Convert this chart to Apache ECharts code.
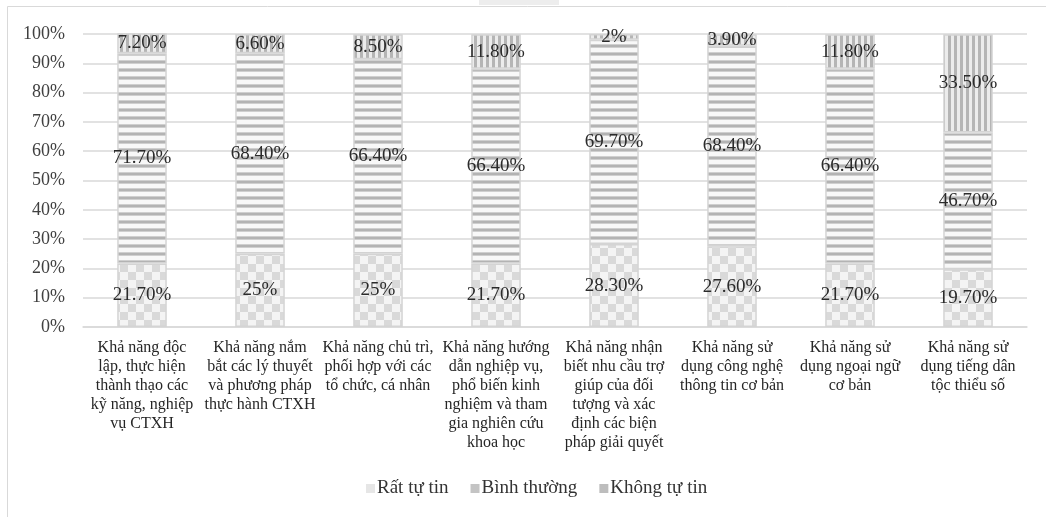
<!DOCTYPE html>
<html lang="vi">
  <head>
    <meta charset="UTF-8" />
    <title>Chart</title>
    <script src="https://cdn.jsdelivr.net/npm/echarts@6/dist/echarts.min.js"></script>
    <style>
      html, body { margin: 0; padding: 0; background: #fff; }
      #main { width: 1046px; height: 517px; }
    </style>
  </head>
  <body>
    <div id="main"></div>
    <script>
      // du lieu
      var categories = [
        "Khả năng độc\nlập, thực hiện\nthành thạo các\nkỹ năng, nghiệp\nvụ CTXH",
        "Khả năng nắm\nbắt các lý thuyết\nvà phương pháp\nthực hành CTXH",
        "Khả năng chủ trì,\nphối hợp với các\ntổ chức, cá nhân",
        "Khả năng hướng\ndẫn nghiệp vụ,\nphổ biến kinh\nnghiệm và tham\ngia nghiên cứu\nkhoa học",
        "Khả năng nhận\nbiết nhu cầu trợ\ngiúp của đối\ntượng và xác\nđịnh các biện\npháp giải quyết",
        "Khả năng sử\ndụng công nghệ\nthông tin cơ bản",
        "Khả năng sử\ndụng ngoại ngữ\ncơ bản",
        "Khả năng sử\ndụng tiếng dân\ntộc thiểu số"
      ];
      var seriesNames = ["Rất tự tin", "Bình thường", "Không tự tin"];
      var ratTuTin = [21.7, 25, 25, 21.7, 28.3, 27.6, 21.7, 19.7];
      var binhThuong = [71.7, 68.4, 66.4, 66.4, 69.7, 68.4, 66.4, 46.7];
      var khongTuTin = [7.2, 6.6, 8.5, 11.8, 2, 3.9, 11.8, 33.5];

      // hoa van (pattern) cho cot
      function makePattern(w, h, draw) {
        var c = document.createElement("canvas");
        c.width = w;
        c.height = h;
        draw(c.getContext("2d"));
        return { image: c, repeat: "repeat" };
      }
      var checker = makePattern(16, 16, function (ctx) {
        ctx.fillStyle = "#f4f4f4";
        ctx.fillRect(0, 0, 16, 16);
        ctx.fillStyle = "#d9d9d9";
        ctx.fillRect(0, 0, 8, 8);
        ctx.fillRect(8, 8, 8, 8);
      });
      var hStripes = makePattern(4, 8, function (ctx) {
        ctx.fillStyle = "#f8f8f8";
        ctx.fillRect(0, 0, 4, 8);
        ctx.fillStyle = "#cfcfcf";
        ctx.fillRect(0, 4, 4, 1);
        ctx.fillRect(0, 7, 4, 1);
        ctx.fillStyle = "#b3b3b3";
        ctx.fillRect(0, 5, 4, 2);
      });
      var vStripes = makePattern(6, 4, function (ctx) {
        ctx.fillStyle = "#ececec";
        ctx.fillRect(0, 0, 6, 4);
        ctx.fillStyle = "#b5b5b5";
        ctx.fillRect(0, 0, 3, 4);
      });
      var patterns = [checker, hStripes, vStripes];
      var legendColors = ["#e6e6e6", "#c4c4c4", "#bdbdbd"];
      var values = [ratTuTin, binhThuong, khongTuTin];

      var font = "'Liberation Serif', 'Times New Roman', serif";

      function fmt(p) {
        var v = p.value;
        return (Math.round(v) === v ? v : v.toFixed(2)) + "%";
      }

      var series = [];
      for (var i = 0; i < 3; i++) {
        series.push({
          name: seriesNames[i],
          type: "bar",
          stack: "total",
          barWidth: "42%",
          itemStyle: {
            color: patterns[i],
            borderColor: "#d4d4d4",
            borderWidth: 1.5
          },
          label: {
            show: true,
            position: "inside",
            formatter: fmt,
            color: "#2b2b2b",
            fontFamily: font,
            fontSize: 19
          },
          data: values[i]
        });
      }

      var myChart = echarts.init(document.getElementById("main"));
      var option = {
        backgroundColor: "#fff",
        animation: false,
        graphic: [
          {
            type: "rect",
            shape: { x: 7.5, y: 6.5, width: 1200, height: 600 },
            style: { fill: "none", stroke: "#d9d9d9", lineWidth: 1 },
            silent: true
          },
          {
            type: "rect",
            shape: { x: 479, y: 0, width: 80, height: 5 },
            style: { fill: "#ededed" },
            silent: true
          }
        ],
        grid: { left: 83, right: 19, top: 34, bottom: 190 },
        legend: {
          bottom: 14,
          left: 361,
          icon: "rect",
          itemWidth: 9,
          itemHeight: 9,
          itemGap: 22,
          textStyle: { fontFamily: font, fontSize: 19, color: "#333", padding: [0, 0, 0, -3] },
          data: seriesNames.map(function (n, k) {
            return { name: n, itemStyle: { color: legendColors[k], borderWidth: 0 } };
          })
        },
        xAxis: {
          type: "category",
          data: categories,
          axisLine: { lineStyle: { color: "#d9d9d9", width: 1.5 } },
          axisTick: { show: false },
          axisLabel: {
            interval: 0,
            margin: 11,
            color: "#262626",
            fontFamily: font,
            fontSize: 16,
            lineHeight: 19,
            align: "center"
          }
        },
        yAxis: {
          type: "value",
          min: 0,
          max: 100,
          interval: 10,
          axisLine: { show: false },
          axisTick: { show: false },
          splitLine: { lineStyle: { color: "#d9d9d9", width: 1.5 } },
          axisLabel: {
            formatter: "{value}%",
            margin: 18,
            color: "#404040",
            fontFamily: font,
            fontSize: 18
          }
        },
        series: series
      };
      myChart.setOption(option);
    </script>
  </body>
</html>
